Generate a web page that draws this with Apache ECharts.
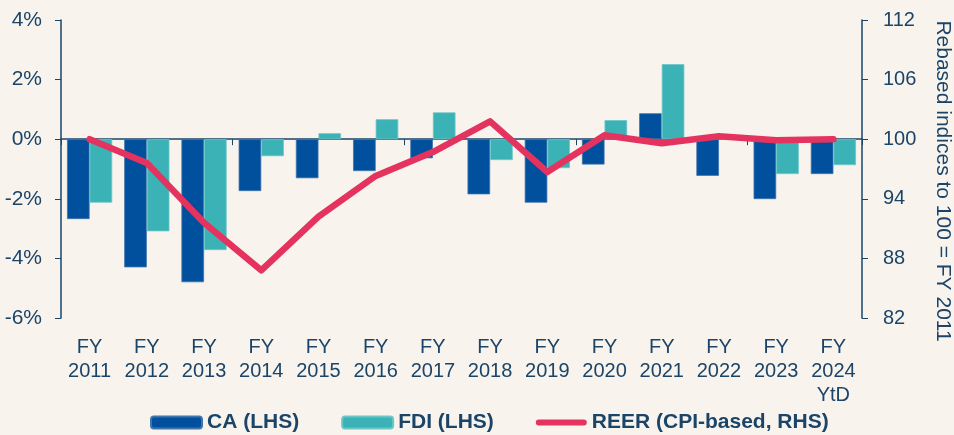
<!DOCTYPE html>
<html>
<head>
<meta charset="utf-8">
<script src="https://cdn.jsdelivr.net/npm/echarts@6/dist/echarts.min.js"></script>
<style>
  html, body { margin: 0; padding: 0; background: #f8f4ed; }
  #chart { width: 954px; height: 435px; }
</style>
</head>
<body>
<div id="chart"></div>
<script>
// fiscal years, last one is year to date
var categories = ['FY\n2011', 'FY\n2012', 'FY\n2013', 'FY\n2014', 'FY\n2015', 'FY\n2016', 'FY\n2017',
    'FY\n2018', 'FY\n2019', 'FY\n2020', 'FY\n2021', 'FY\n2022', 'FY\n2023', 'FY\n2024\nYtD'];

// % of GDP, left axis
var caValues = [-2.68, -4.30, -4.80, -1.74, -1.31, -1.07, -0.64, -1.85, -2.13, -0.85, 0.87, -1.23, -2.01, -1.17];
var fdiValues = [-2.13, -3.09, -3.72, -0.57, 0.20, 0.67, 0.90, -0.70, -0.97, 0.64, 2.52, 0, -1.17, -0.87];

// rebased index, right axis
var reerValues = [100, 97.6, 91.6, 86.8, 92.2, 96.3, 98.7, 101.8, 96.7, 100.4, 99.6, 100.3, 99.9, 100.0];

var leftTicks = { min: -6, max: 4, step: 2 };
var rightTicks = { min: 82, max: 112, step: 6 };

var navy = '#1a4468';
var pink = '#e5335f';
var font = 'Liberation Sans, Arial, sans-serif';

// thick rounded line for the REER legend entry (the two tiny moves keep the box 51x12)
var lineIcon = 'path://M0,0h0.01M0,12h0.01M3,3H48A3,3,0,0,1,48,9H3A3,3,0,0,1,3,3Z';

var chart = echarts.init(document.getElementById('chart'));

var option = {
    backgroundColor: '#f8f4ed',
    animation: false,
    textStyle: { fontFamily: font },
    grid: { left: 61, right: 92, top: 20, bottom: 117 },
    legend: {
        bottom: 2,
        left: 150,
        padding: 0,
        itemWidth: 51,
        itemHeight: 12,
        itemGap: 42,
        textStyle: { color: navy, fontSize: 21, fontWeight: 'bold', fontFamily: font },
        data: [
            { name: 'CA (LHS)' },
            { name: 'FDI (LHS)' },
            { name: 'REER (CPI-based, RHS)', icon: lineIcon, itemStyle: { color: pink } }
        ]
    },
    xAxis: [
        {
            type: 'category',
            data: categories,
            axisLine: { onZero: true, lineStyle: { color: navy, width: 1.5 } },
            axisTick: { show: true, interval: 2, length: 6, lineStyle: { color: navy } },
            axisLabel: { show: false },
            splitLine: { show: false }
        },
        {
            type: 'category',
            data: categories,
            position: 'bottom',
            axisLine: { show: false },
            axisTick: { show: false },
            axisLabel: {
                interval: 0,
                margin: 17,
                color: navy,
                fontSize: 20,
                lineHeight: 24,
                fontFamily: font
            }
        }
    ],
    yAxis: [
        {
            type: 'value',
            min: leftTicks.min,
            max: leftTicks.max,
            interval: leftTicks.step,
            axisLine: { show: true, lineStyle: { color: navy, width: 1.5 } },
            axisTick: { show: true, length: 6, lineStyle: { color: navy } },
            axisLabel: { formatter: '{value}%', color: navy, fontSize: 21, margin: 19, fontFamily: font },
            splitLine: { show: false }
        },
        {
            type: 'value',
            min: rightTicks.min,
            max: rightTicks.max,
            interval: rightTicks.step,
            position: 'right',
            axisLine: { show: true, lineStyle: { color: navy, width: 1.5 } },
            axisTick: { show: true, length: 6, lineStyle: { color: navy } },
            axisLabel: { color: navy, fontSize: 20, margin: 21, fontFamily: font },
            splitLine: { show: false }
        }
    ],
    graphic: [{
        type: 'text',
        x: 943,
        y: 181,
        rotation: -Math.PI / 2,
        style: {
            text: 'Rebased indices to 100 = FY 2011',
            fill: navy,
            font: '21px ' + font,
            align: 'center',
            verticalAlign: 'middle'
        }
    }],
    series: [
        {
            name: 'CA (LHS)',
            type: 'bar',
            xAxisIndex: 0,
            yAxisIndex: 0,
            data: caValues,
            barGap: '0%',
            barCategoryGap: '21%',
            itemStyle: { color: '#00509d', borderColor: '#3f74ad', borderWidth: 0.8 }
        },
        {
            name: 'FDI (LHS)',
            type: 'bar',
            xAxisIndex: 0,
            yAxisIndex: 0,
            data: fdiValues,
            itemStyle: { color: '#3ab2b6', borderColor: '#6cc6c8', borderWidth: 0.8 }
        },
        {
            name: 'REER (CPI-based, RHS)',
            type: 'line',
            xAxisIndex: 0,
            yAxisIndex: 1,
            data: reerValues,
            symbol: 'none',
            lineStyle: { color: pink, width: 6.5, join: 'round', cap: 'round' },
            itemStyle: { color: pink },
            z: 5
        }
    ]
};

chart.setOption(option);
</script>
</body>
</html>
